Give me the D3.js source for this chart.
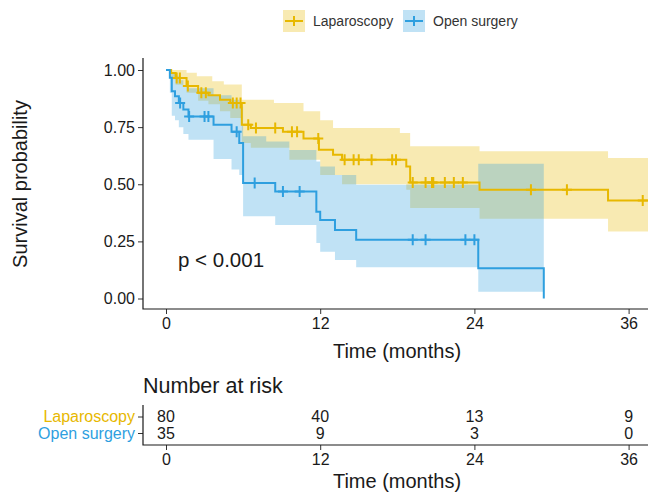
<!DOCTYPE html>
<html>
<head>
<meta charset="utf-8">
<script src="https://cdn.jsdelivr.net/npm/d3@7"></script>
<style>
  body { margin: 0; background: #fff; }
  text { font-family: "Liberation Sans", Arial, sans-serif; }
</style>
</head>
<body>
<div id="chart"></div>
<script>
// Kaplan-Meier steps
var groups = ["Laparoscopy", "Open surgery"];
var colors = ["#E7B800", "#2E9FDF"];

var lapTime = [0, 0.4, 0.75, 1.6, 2.5, 3.3, 4.2, 5.0, 5.9, 6.6, 9.1, 10.7, 11.9, 13.0, 13.7, 18.7, 19.0, 24.4, 34.4, 38];
var lapSurv = [1, 0.987, 0.965, 0.93, 0.90, 0.89, 0.87, 0.856, 0.76, 0.746, 0.73, 0.70, 0.651, 0.629, 0.607, 0.578, 0.508, 0.476, 0.429, 0.429];
var lapCensor = [0.83, 1.08, 1.7, 2.75, 3.1, 5.2, 5.5, 5.8, 6.4, 7.0, 8.5, 9.8, 10.2, 11.85, 13.9, 14.6, 15.0, 16.0, 17.6, 17.9,
                 19.2, 20.2, 20.7, 20.8, 21.7, 22.4, 23.1, 28.4, 31.2, 37.1];
var lapBandTime = [0, 0.4, 0.75, 1.6, 2.4, 2.5, 3.3, 3.6, 4.2, 4.5, 5.0, 5.9, 6.6, 8.4, 9.6, 10.7, 12.0, 13.0, 13.7, 18.2, 18.7, 19.0, 24.4, 34.4, 38];
var lapLower =    [1, 0.96, 0.935, 0.90, 0.90, 0.865, 0.85, 0.85, 0.82, 0.82, 0.79, 0.68, 0.66, 0.66, 0.607, 0.607, 0.54, 0.54, 0.50, 0.50, 0.476, 0.396, 0.349, 0.293, 0.293];
var lapUpper =    [1, 1, 1, 0.988, 0.973, 0.973, 0.973, 0.951, 0.951, 0.936, 0.936, 0.87, 0.87, 0.856, 0.856, 0.82, 0.78, 0.746, 0.746, 0.724, 0.724, 0.666, 0.644, 0.615, 0.615];

var openTime = [0, 0.3, 0.45, 0.7, 1.0, 1.35, 1.75, 3.7, 5.1, 5.7, 6.0, 8.5, 11.7, 12.0, 13.15, 14.8, 24.3, 29.4];
var openSurv = [1, 0.966, 0.907, 0.885, 0.856, 0.827, 0.797, 0.76, 0.73, 0.68, 0.505, 0.468, 0.38, 0.344, 0.30, 0.257, 0.132, 0];
var openCensor = [1.1, 1.8, 3.0, 3.3, 5.5, 6.9, 9.1, 10.4, 19.2, 20.2, 23.3, 24.0];
var openBandTime = [0, 0.3, 0.45, 0.7, 1.0, 1.35, 1.75, 3.7, 5.1, 5.7, 6.0, 7.8, 8.5, 9.6, 11.7, 12.0, 13.15, 14.8, 24.3, 29.4];
var openLower =    [1, 0.90, 0.80, 0.78, 0.75, 0.72, 0.695, 0.61, 0.565, 0.54, 0.36, 0.36, 0.322, 0.322, 0.243, 0.205, 0.169, 0.137, 0.03, 0.03];
var openUpper =    [1, 1, 0.99, 0.975, 0.955, 0.935, 0.92, 0.89, 0.87, 0.84, 0.71, 0.687, 0.687, 0.65, 0.60, 0.578, 0.54, 0.498, 0.59, 0.59];

var xTicks = [0, 12, 24, 36];
var yTicks = [0, 0.25, 0.5, 0.75, 1];
var lapRisk = [80, 40, 13, 9];
var openRisk = [35, 9, 3, 0];

function main() {
    var width = 648, height = 494;
    var panel = {left: 143, right: 648, top: 58, bottom: 309};
    var svg = d3.select("#chart").append("svg")
                .attr("width", width).attr("height", height);

    var x = d3.scaleLinear().domain([0, 36]).range([166, 628.6]);
    var y = d3.scaleLinear().domain([0, 1]).range([298.5, 70]);

    svg.append("clipPath").attr("id", "clip").append("rect")
       .attr("x", panel.left).attr("y", panel.top - 5)
       .attr("width", panel.right - panel.left).attr("height", panel.bottom - panel.top + 5);

    var series = [
        {name: groups[0], color: colors[0], time: lapTime, surv: lapSurv, censor: lapCensor,
         bt: lapBandTime, lo: lapLower, hi: lapUpper},
        {name: groups[1], color: colors[1], time: openTime, surv: openSurv, censor: openCensor,
         bt: openBandTime, lo: openLower, hi: openUpper}
    ];

    var plot = svg.append("g").attr("clip-path", "url(#clip)");

    var band = d3.area().curve(d3.curveStepAfter)
                 .x(function(d){ return x(d[0]); })
                 .y0(function(d){ return y(d[1]); })
                 .y1(function(d){ return y(d[2]); });
    var line = d3.line().curve(d3.curveStepAfter)
                 .x(function(d){ return x(d[0]); })
                 .y(function(d){ return y(d[1]); });

    series.forEach(function(s){
        plot.append("path")
            .attr("d", band(s.bt.map(function(t, i){ return [t, s.lo[i], s.hi[i]]; })))
            .attr("fill", s.color).attr("fill-opacity", 0.3);
    });
    series.forEach(function(s){
        plot.append("path")
            .attr("d", line(s.time.map(function(t, i){ return [t, s.surv[i]]; })))
            .attr("fill", "none").attr("stroke", s.color).attr("stroke-width", 2);
        plot.selectAll(null).data(s.censor).enter().append("path")
            .attr("transform", function(c){
                var i = d3.bisectRight(s.time, c) - 1;
                return "translate(" + x(c) + "," + y(s.surv[i]) + ")";
            })
            .attr("d", "M-5,0H5M0,-5.5V5.5")
            .attr("stroke", s.color).attr("stroke-width", 2);
    });

    // axes
    var yAxis = svg.append("g").attr("transform", "translate(" + panel.left + ",0)")
        .call(d3.axisLeft(y).tickValues(yTicks).tickFormat(d3.format(".2f")).tickSize(5).tickPadding(3));
    var xAxis = svg.append("g").attr("transform", "translate(0," + panel.bottom + ")")
        .call(d3.axisBottom(x).tickValues(xTicks).tickSize(5).tickPadding(4));
    [yAxis, xAxis].forEach(function(a){
        a.select(".domain").remove();
        a.selectAll(".tick line").attr("stroke", "#333");
        a.selectAll(".tick text").attr("fill", "#1a1a1a").style("font-size", "16px");
    });
    svg.append("path")
       .attr("d", "M" + panel.left + "," + panel.top + "V" + panel.bottom + "H" + panel.right)
       .attr("fill", "none").attr("stroke", "#1a1a1a").attr("stroke-width", 1.2);

    svg.append("text").attr("transform", "translate(27,184) rotate(-90)")
       .attr("text-anchor", "middle").style("font-size", "20px").attr("fill", "#1a1a1a")
       .text("Survival probability");
    svg.append("text").attr("x", 397).attr("y", 358)
       .attr("text-anchor", "middle").style("font-size", "20px").attr("fill", "#1a1a1a")
       .text("Time (months)");
    svg.append("text").attr("x", 178).attr("y", 267)
       .style("font-size", "20.5px").attr("fill", "#1a1a1a")
       .text("p < 0.001");

    // legend
    var legend = svg.append("g").selectAll("g").data(series).enter().append("g")
        .attr("transform", function(d, i){ return "translate(" + (283 + i * 120) + ",10)"; });
    legend.append("rect").attr("width", 22).attr("height", 22)
          .attr("fill", function(d){ return d.color; }).attr("fill-opacity", 0.3);
    legend.append("path").attr("d", "M2,11H20M6,11H16M11,6V16")
          .attr("stroke", function(d){ return d.color; }).attr("stroke-width", 2);
    legend.append("text").attr("x", 30).attr("y", 16)
          .style("font-size", "14px").attr("fill", "#333")
          .text(function(d){ return d.name; });

    // risk table
    var ty = d3.scalePoint().domain(groups).range([416.5, 433]);
    svg.append("text").attr("x", 143).attr("y", 393)
       .style("font-size", "21.5px").attr("fill", "#1a1a1a").text("Number at risk");
    var tAxisY = svg.append("g").attr("transform", "translate(" + panel.left + ",0)")
        .call(d3.axisLeft(ty).tickSize(5).tickPadding(3));
    tAxisY.select(".domain").remove();
    tAxisY.selectAll(".tick line").attr("stroke", "#333");
    tAxisY.selectAll(".tick text").style("font-size", "16px")
          .attr("fill", function(d, i){ return colors[i]; });
    var tAxisX = svg.append("g").attr("transform", "translate(0,445)")
        .call(d3.axisBottom(x).tickValues(xTicks).tickSize(5).tickPadding(4));
    tAxisX.select(".domain").remove();
    tAxisX.selectAll(".tick line").attr("stroke", "#333");
    tAxisX.selectAll(".tick text").attr("fill", "#1a1a1a").style("font-size", "16px");
    svg.append("path").attr("d", "M" + panel.left + ",405V445H" + panel.right)
       .attr("fill", "none").attr("stroke", "#1a1a1a").attr("stroke-width", 1.2);
    [lapRisk, openRisk].forEach(function(r, k){
        svg.append("g").selectAll("text").data(r).enter().append("text")
           .attr("x", function(d, i){ return x(xTicks[i]); })
           .attr("y", ty(groups[k])).attr("dy", "0.35em")
           .attr("text-anchor", "middle").style("font-size", "16px").attr("fill", "#1a1a1a")
           .text(function(d){ return d; });
    });
    svg.append("text").attr("x", 397).attr("y", 488)
       .attr("text-anchor", "middle").style("font-size", "20px").attr("fill", "#1a1a1a")
       .text("Time (months)");
}
main();
</script>
</body>
</html>
